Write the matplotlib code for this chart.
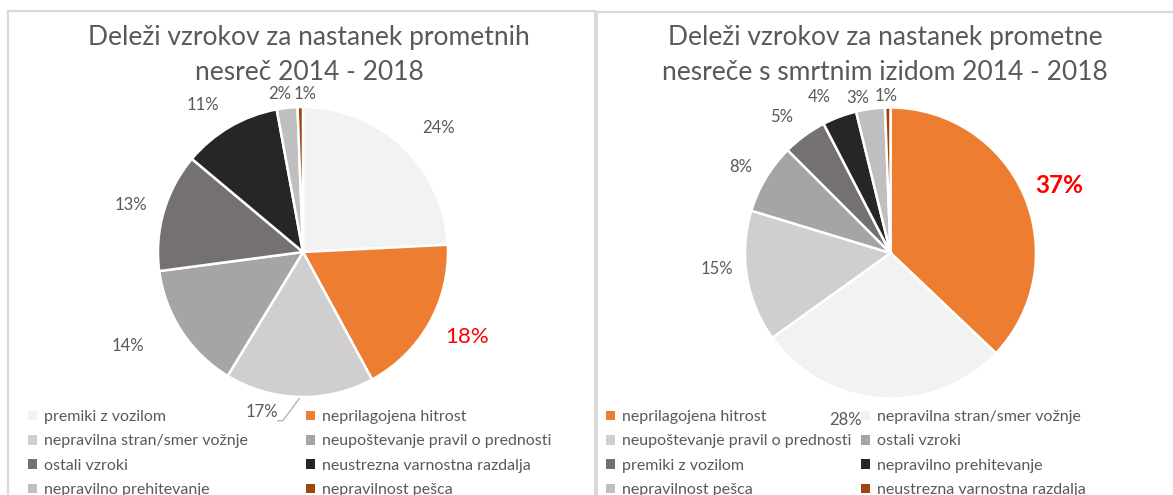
import matplotlib.pyplot as plt
from matplotlib.patches import Rectangle, Patch
import numpy as np

plt.rcParams['font.family'] = ['Lato', 'DejaVu Sans']

# Left chart: all accidents 2014 - 2018 (shares in %)
causes_all = ['premiki z vozilom', 'neprilagojena hitrost', 'nepravilna stran/smer vožnje',
              'neupoštevanje pravil o prednosti', 'ostali vzroki', 'neustrezna varnostna razdalja',
              'nepravilno prehitevanje', 'nepravilnost pešca']
shares_all = [24.2, 17.9, 16.6, 14.2, 13.2, 11.0, 2.3, 0.6]
labels_all = ['24%', '18%', '17%', '14%', '13%', '11%', '2%', '1%']

# Right chart: fatal accidents 2014 - 2018 (shares in %)
causes_fatal = ['neprilagojena hitrost', 'nepravilna stran/smer vožnje', 'neupoštevanje pravil o prednosti',
                'ostali vzroki', 'premiki z vozilom', 'nepravilno prehitevanje',
                'nepravilnost pešca', 'neustrezna varnostna razdalja']
shares_fatal = [37.1, 28.0, 14.6, 7.8, 4.9, 3.8, 3.2, 0.6]
labels_fatal = ['37%', '28%', '15%', '8%', '5%', '4%', '3%', '1%']

title_all = 'Deleži vzrokov za nastanek prometnih\nnesreč 2014 - 2018'
title_fatal = 'Deleži vzrokov za nastanek prometne\nnesreče s smrtnim izidom 2014 - 2018'

grey = '#595959'
orange = '#ED7D31'
colors_all = ['#F2F2F2', orange, '#D0CECE', '#A5A5A5', '#767171', '#262626', '#BFBFBF', '#9E480E']
colors_fatal = [orange, '#F2F2F2', '#D0CECE', '#A5A5A5', '#767171', '#262626', '#BFBFBF', '#9E480E']

W, H = 1173, 495
fig = plt.figure(figsize=(W / 100, H / 100), dpi=100)


def px_box(x0, y0, x1, y1):
    return [x0 / W, 1 - y1 / H, (x1 - x0) / W, (y1 - y0) / H]


# panel frames
fig.add_artist(Rectangle((8 / W, -0.1), 587 / W, 1.1 - 11 / H, transform=fig.transFigure,
                         fill=False, ec='#D9D9D9', lw=1.6))
fig.add_artist(Rectangle((597 / W, -0.1), 700 / W, 1.1 - 12 / H, transform=fig.transFigure,
                         fill=False, ec='#D9D9D9', lw=1.6))


def draw_pie(box, shares, labels, colors, dists, offs, highlight, hl_size, bold):
    ax = fig.add_axes(box)
    wedges, _ = ax.pie(shares, colors=colors, startangle=90, counterclock=False,
                       wedgeprops=dict(edgecolor='white', linewidth=1.8))
    ax.set_xlim(-1, 1)
    ax.set_ylim(-1, 1)
    for i, w in enumerate(wedges):
        ang = np.deg2rad((w.theta1 + w.theta2) / 2 - offs[i])
        x, y = dists[i] * np.cos(ang), dists[i] * np.sin(ang)
        if i == highlight:
            ax.text(x, y, labels[i], color='#FF0000', fontsize=hl_size, ha='center', va='center',
                    fontweight='bold' if bold else 'normal')
        else:
            ax.text(x, y, labels[i], color=grey, fontsize=12, ha='center', va='center')
    return ax, wedges


ax1, w1 = draw_pie(px_box(158, 107, 448, 397), shares_all, labels_all, colors_all,
                   [1.27, 1.27, 1.14, 1.37, 1.23, 1.23, 1.10, 1.09],
                   [4, -2, 13, 5, -1, -4, -2, 2], 1, 16, False)
# leader line for 17%
m = np.deg2rad((w1[2].theta1 + w1[2].theta2) / 2)
ang = np.deg2rad((w1[2].theta1 + w1[2].theta2) / 2 - 13)
tx, ty = 1.14 * np.cos(ang), 1.14 * np.sin(ang)
ax1.plot([tx + 0.11, tx + 0.145, 1.01 * np.cos(m)], [ty - 0.06, ty - 0.06, 1.01 * np.sin(m)],
         color='#A6A6A6', lw=0.8, clip_on=False)

ax2, w2 = draw_pie(px_box(745, 107.5, 1036, 398.5), shares_fatal, labels_fatal, colors_fatal,
                   [1.245, 1.19, 1.20, 1.19, 1.20, 1.18, 1.09, 1.08],
                   [1.5, 11, 4, -1, -2.5, -4, -4, -0.5], 0, 17.5, True)

fig.text(309 / W, 1 - 55 / H, title_all, ha='center', va='center', fontsize=19,
         color=grey, linespacing=1.55)
fig.text(885 / W, 1 - 55 / H, title_fatal, ha='center', va='center', fontsize=19,
         color=grey, linespacing=1.55)


def draw_legend(names, colors, x0, spacing):
    handles = [Patch(facecolor=c, edgecolor='none', label=n) for n, c in zip(names, colors)]
    order = [0, 2, 4, 6, 1, 3, 5, 7]
    fig.legend([handles[i] for i in order], [names[i] for i in order], ncol=2,
               loc='upper left', bbox_to_anchor=(x0 / W, 1 - 410 / H), frameon=False,
               fontsize=11.5, labelcolor=grey, handlelength=0.55, handleheight=0.55,
               handletextpad=0.45, columnspacing=spacing, labelspacing=0.65,
               borderaxespad=0, borderpad=0)


draw_legend(causes_all, colors_all, 28, 3.65)
draw_legend(causes_fatal, colors_fatal, 606, 0.6)

fig.savefig('out.png', dpi=100)
